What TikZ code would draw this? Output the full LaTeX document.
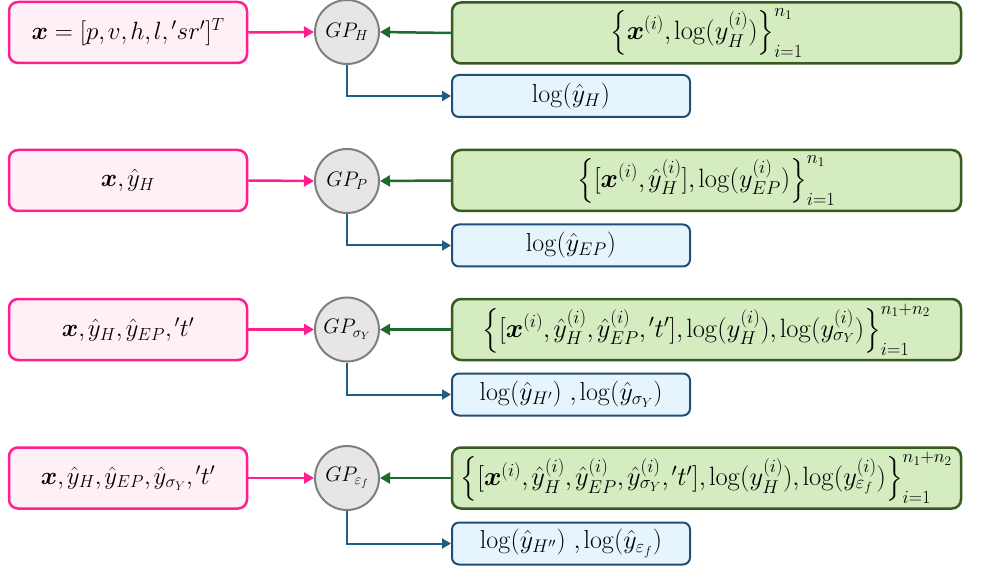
\RequirePackage{fix-cm}
\documentclass[tikz,border=0pt]{standalone}
\usepackage{amsmath,bm}
\usetikzlibrary{arrows.meta}
\definecolor{pinkline}{HTML}{FF1F8F}
\definecolor{pinkfill}{HTML}{FFF0F7}
\definecolor{greenline}{HTML}{375B1E}
\definecolor{greenfill}{HTML}{D5EBC0}
\definecolor{greenarrow}{HTML}{1E6B2E}
\definecolor{blueline}{HTML}{1F4E79}
\definecolor{bluefill}{HTML}{E6F5FD}
\definecolor{bluearrow}{HTML}{1F6080}
\definecolor{gpline}{HTML}{7F7F7F}
\definecolor{gpfill}{HTML}{E6E6E6}
\thinmuskip=2mu\relax
\tikzset{
 inbox/.style={draw=pinkline, fill=pinkfill, line width=2.5pt, rounded corners=9pt, minimum width=238pt, minimum height=61pt, inner sep=0pt, font=\fontsize{25}{30}\selectfont},
 databox/.style={draw=greenline, fill=greenfill, line width=2.5pt, rounded corners=9pt, minimum width=509pt, minimum height=61pt, inner sep=0pt, font=\fontsize{26.5}{31}\selectfont},
 outbox/.style={draw=blueline, fill=bluefill, line width=2pt, rounded corners=7pt, minimum width=238pt, minimum height=42pt, inner sep=0pt, font=\fontsize{26}{31}\selectfont},
 gpnode/.style={circle, draw=gpline, fill=gpfill, line width=2pt, minimum size=64pt, inner sep=0pt, font=\fontsize{21}{25}\selectfont},
 inarrow/.style={draw=pinkline, line width=2.5pt, -{Triangle[length=10pt,width=11pt]}},
 dataarrow/.style={draw=greenarrow, line width=2.5pt, -{Triangle[length=10pt,width=11pt]}},
 outarrow/.style={draw=bluearrow, line width=2pt, -{Triangle[length=9pt,width=10pt]}},
}
\begin{document}
\begin{tikzpicture}[x=1pt,y=-1pt]
\useasboundingbox (0,0) rectangle (990,569);
% row 1
\node[gpnode] (gp1) at (347,32) {$GP_H$};
\node[inbox] (in1) at (128,32.5) {$\bm{x}=[p,v,h,l,{}'sr']^T$};
\node[databox] (data1) at (706.5,33) {$\Bigl\{\bm{x}^{(i)},\log(y_H^{(i)})\Bigr\}_{i=1}^{n_1}$};
\node[outbox] (out1) at (571,96) {$\log(\hat{y}_H)$};
% row 2
\node[gpnode] (gp2) at (347,181) {$GP_P$};
\node[inbox] (in2) at (128,180.5) {$\bm{x},\hat{y}_H$};
\node[databox] (data2) at (706.5,180.5) {$\Bigl\{[\bm{x}^{(i)},\hat{y}_H^{(i)}],\log(y_{EP}^{(i)})\Bigr\}_{i=1}^{n_1}$};
\node[outbox] (out2) at (571,245.5) {$\log(\hat{y}_{EP})$};
% row 3
\node[gpnode] (gp3) at (347,329.5) {$GP_{\sigma_Y}$};
\node[inbox] (in3) at (128,329.5) {$\bm{x},\hat{y}_H,\hat{y}_{EP},{}'t'$};
\node[databox] (data3) at (706.5,329.5) {$\Bigl\{[\bm{x}^{(i)},\hat{y}_H^{(i)},\hat{y}_{EP}^{(i)},{}'t'],\log(y_H^{(i)}),\log(y_{\sigma_Y}^{(i)})\Bigr\}_{i=1}^{n_1+n_2}$};
\node[outbox] (out3) at (571,394.5) {$\log(\hat{y}_{H'})\ ,\log(\hat{y}_{\sigma_Y})$};
% row 4
\node[gpnode] (gp4) at (347,478) {$GP_{\varepsilon_f}$};
\node[inbox] (in4) at (128,478) {$\bm{x},\hat{y}_H,\hat{y}_{EP},\hat{y}_{\sigma_Y},{}'t'$};
\node[databox] (data4) at (706.5,478) {$\Bigl\{[\bm{x}^{(i)},\hat{y}_H^{(i)},\hat{y}_{EP}^{(i)},\hat{y}_{\sigma_Y}^{(i)},{}'t'],\log(y_H^{(i)}),\log(y_{\varepsilon_f}^{(i)})\Bigr\}_{i=1}^{n_1+n_2}$};
\node[outbox] (out4) at (571,543.5) {$\log(\hat{y}_{H''})\ ,\log(\hat{y}_{\varepsilon_f})$};
% connectors
\foreach \r in {1,2,3,4}{
  \draw[inarrow] (in\r.east) -- (gp\r.west);
  \draw[dataarrow] (data\r.west) -- (gp\r.east);
  \draw[outarrow] (gp\r.south) |- (out\r.west);
}
\end{tikzpicture}
\end{document}
